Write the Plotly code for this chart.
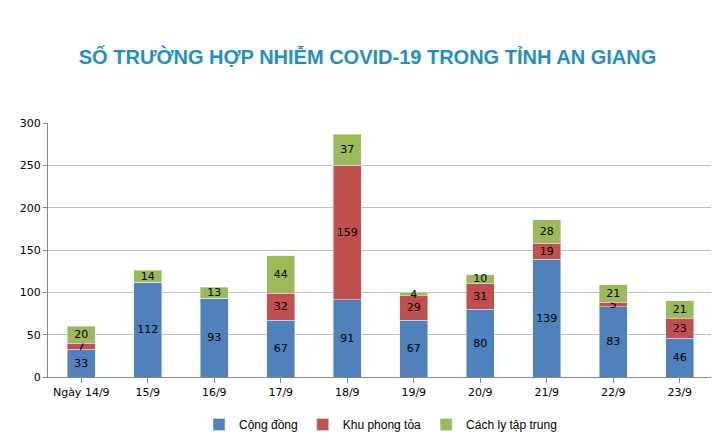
import plotly.graph_objects as go

days = ["Ngày 14/9", "15/9", "16/9", "17/9", "18/9", "19/9", "20/9", "21/9", "22/9", "23/9"]
cong_dong = [33, 112, 93, 67, 91, 67, 80, 139, 83, 46]
phong_toa = [7, 0, 0, 32, 159, 29, 31, 19, 5, 23]
cach_ly = [20, 14, 13, 44, 37, 4, 10, 28, 21, 21]

def labels(vals):
    return [str(v) if v else "" for v in vals]

fig = go.Figure()
for name, vals, color in [("Cộng đồng", cong_dong, "#4F81BD"),
                          ("Khu phong tỏa", phong_toa, "#C0504D"),
                          ("Cách ly tập trung", cach_ly, "#9BBB59")]:
    fig.add_trace(go.Bar(x=days, y=vals, name=name, marker_color=color,
                         text=labels(vals), textposition="inside", insidetextanchor="middle",
                         textangle=0, constraintext="none", cliponaxis=False,
                         textfont=dict(color="black", size=11), width=0.42))

fig.update_layout(
    barmode="stack", width=719, height=443,
    paper_bgcolor="white", plot_bgcolor="white",
    font=dict(family="DejaVu Sans", size=11, color="black"),
    title=dict(text="<b>SỐ TRƯỜNG HỢP NHIỄM COVID-19 TRONG TỈNH AN GIANG</b>",
               x=0.5, y=0.89, xanchor="center", yanchor="middle",
               font=dict(size=20, color="#1F8FC8", family="Liberation Sans")),
    margin=dict(l=40, r=14, t=115, b=66),
    legend=dict(orientation="h", x=0.5, xanchor="center", y=-0.13,
                font=dict(size=12, family="Liberation Sans"), traceorder="normal"),
    uniformtext=dict(minsize=8, mode="show"),
)
fig.update_yaxes(range=[0, 300], dtick=50, gridcolor="#BFBFBF", showline=True,
                 linecolor="#888", ticks="outside", ticklen=4, tickcolor="#888")
fig.update_xaxes(showline=True, linecolor="#888", ticks="outside", tickcolor="#888")
fig.write_html("out.html")
